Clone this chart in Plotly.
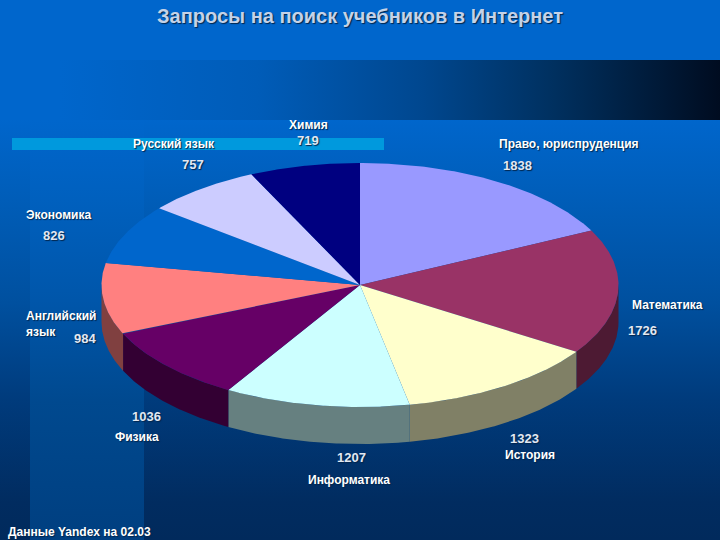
import numpy as np
import plotly.graph_objects as go

categories = ["Право, юриспруденция", "Математика", "История", "Информатика", "Физика",
              "Английский<br>язык", "Экономика", "Русский язык", "Химия"]
values = [1838, 1726, 1323, 1207, 1036, 984, 826, 757, 719]
top_colors = ["#9999FF", "#993366", "#FFFFCC", "#CCFFFF", "#660066", "#FF8080", "#0066CC", "#CCCCFF", "#000080"]
side_colors = ["#4D4D80", "#4D1A33", "#808066", "#668080", "#330033", "#804040", "#003366", "#666680", "#000040"]
title_text = "Запросы на поиск учебников в Интернет"
source_text = "Данные Yandex на 02.03"

# layout of the picture, in pixels
CX, CY, RX, RY, DEPTH = 360, 285, 258.5, 122, 37
label_pos = [(569, 144), (667, 305), (530, 455), (349, 480), (137, 437), (61, 324), (58, 215), (174, 144), (308, 125)]
value_pos = [(517, 165), (642, 330), (524, 438), (351, 457), (146, 416), (85, 338), (54, 235), (193, 164), (308, 140)]

fig = go.Figure()

def rect(x0, y0, x1, y1, stops, kind):
    fig.add_trace(go.Scatter(
        x=[x0, x1, x1, x0, x0], y=[y0, y0, y1, y1, y0], mode="lines", line=dict(width=0),
        fill="toself", fillgradient=dict(type=kind, colorscale=stops),
        hoverinfo="skip", showlegend=False))

rect(0, 0, 720, 540, [[0, "#012A5C"], [0.07, "#012C60"], [0.26, "#003B7C"], [0.44, "#00509F"],
                      [0.63, "#005DB8"], [0.78, "#0066CC"], [1, "#0066CC"]], "vertical")
rect(30, 120, 144, 540, [[0, "#003F80"], [0.33, "#00498F"], [0.57, "#0056AA"], [0.81, "#0060BE"], [1, "#0066CC"]], "vertical")
rect(60, 60, 720, 120, [[0, "#0066CC"], [0.3, "#005CB8"], [0.55, "#00478F"], [0.75, "#00305F"], [1, "#000C20"]], "horizontal")
fig.add_trace(go.Scatter(x=[12, 384, 384, 12, 12], y=[138, 138, 150, 150, 138], mode="lines", line=dict(width=0),
                         fill="toself", fillcolor="#0099DD", hoverinfo="skip", showlegend=False))

total = sum(values)
edges = np.cumsum([0] + values) / total * 2 * np.pi

def px(a, dy=0):
    return CX + RX * np.sin(a), CY - RY * np.cos(a) + dy

# outer wall: only the part of each slice that faces the viewer
for i in range(len(values)):
    a0, a1 = max(edges[i], np.pi / 2), min(edges[i + 1], 3 * np.pi / 2)
    if a1 <= a0:
        continue
    a = np.linspace(a0, a1, 80)
    xt, yt = px(a)
    xb, yb = px(a, DEPTH)
    fig.add_trace(go.Scatter(x=np.r_[xt, xb[::-1], xt[0]], y=np.r_[yt, yb[::-1], yt[0]],
                             mode="lines", line=dict(width=0), fill="toself",
                             fillcolor=side_colors[i], name=categories[i], hoverinfo="skip", showlegend=False))

# top face
for i in range(len(values)):
    a = np.linspace(edges[i], edges[i + 1], 120)
    xt, yt = px(a)
    fig.add_trace(go.Scatter(x=np.r_[CX, xt, CX], y=np.r_[CY, yt, CY],
                             mode="lines", line=dict(width=0), fill="toself",
                             fillcolor=top_colors[i], name=categories[i],
                             text=f"{categories[i]}: {values[i]}", hoverinfo="text", showlegend=False))

shadow = "1px 1px 1px #00264d"
def txt(x, y, s, size, color="white", family="Liberation Sans", bold=True):
    fig.add_annotation(x=x, y=y, text=s, showarrow=False, xref="x", yref="y",
                       font=dict(size=size, color=color, family=family, shadow=shadow,
                                 weight="bold" if bold else "normal"), align="left" if "<br>" in s else "center")

for (x, y), c in zip(label_pos, categories):
    txt(x, y, c, 12)
for (x, y), v in zip(value_pos, values):
    txt(x, y, str(v), 13, color="#E2E8F2")
txt(360, 16, title_text, 20, color="#C4D2E8")
txt(79, 532, source_text, 12)

fig.update_layout(
    width=720, height=540, margin=dict(l=0, r=0, t=0, b=0), showlegend=False,
    paper_bgcolor="#0066CC", plot_bgcolor="#0066CC",
    xaxis=dict(range=[0, 720], visible=False, fixedrange=True),
    yaxis=dict(range=[540, 0], visible=False, fixedrange=True),
)
fig.write_html("out.html", config=dict(displayModeBar=False),
               post_script="document.body.style.margin='0';document.documentElement.style.overflow='hidden';")
